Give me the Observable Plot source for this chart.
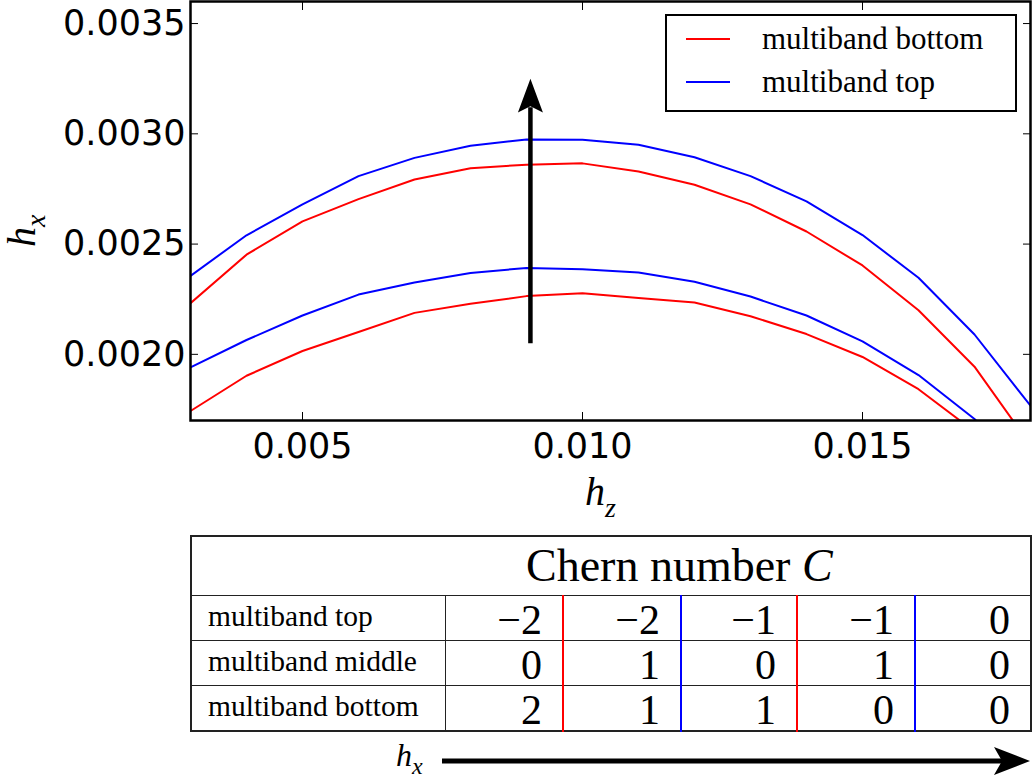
<!DOCTYPE html>
<html>
<head>
<meta charset="utf-8">
<script src="https://cdn.jsdelivr.net/npm/d3@7"></script>
<script src="https://cdn.jsdelivr.net/npm/@observablehq/plot@0.6"></script>
<style>
  body { margin: 0; background: #fff; width: 1032px; height: 779px; position: relative; overflow: hidden; }
  #chart { position: absolute; left: 0; top: 0; }
  #chern {
    position: absolute; left: 190px; top: 535px; width: 840px;
    border-collapse: collapse; table-layout: fixed;
    font-family: "Liberation Serif", "Times New Roman", serif; color: #000;
    border: 2px solid #222;
  }
  #chern td { padding: 0; border: 1.5px solid #222; border-left: none; border-right: none; white-space: nowrap; overflow: visible; }
  #chern tr.head td { height: 58px; font-size: 46px; padding-left: 334px; line-height: 58px; }
  #chern tr.band td { height: 44px; line-height: 44px; }
  #chern td.lab { font-size: 29.5px; padding-left: 16px; border-right: 1.5px solid #222; }
  #chern td.lab span { position: relative; top: -2px; }
  #chern td.num { font-size: 42px; text-align: right; padding-right: 20px; }
  #chern td.num span { position: relative; top: 2px; }
  #chern td.sep-red { border-right: 2px solid #ff0000; }
  #chern td.sep-blue { border-right: 2px solid #0000ff; }
  #hxarrow { position: absolute; left: 380px; top: 730px; }
</style>
</head>
<body>
<div id="chart"></div>
<table id="chern"></table>
<svg id="hxarrow" width="652" height="49"></svg>
<script>
// Field h_z sampled on a 0.001 grid
const hz = [0.003, 0.004, 0.005, 0.006, 0.007, 0.008, 0.009, 0.010,
            0.011, 0.012, 0.013, 0.014, 0.015, 0.016, 0.017, 0.018];

// Critical h_x for each transition (two branches per band)
const bottomUpper = [0.002232, 0.002452, 0.002603, 0.002704, 0.002793, 0.002844, 0.002860, 0.002866,
                     0.002829, 0.002769, 0.002680, 0.002557, 0.002403, 0.002200, 0.001944, 0.001588];
const topUpper    = [0.002356, 0.002540, 0.002680, 0.002808, 0.002891, 0.002946, 0.002974, 0.002973,
                     0.002950, 0.002894, 0.002808, 0.002694, 0.002541, 0.002347, 0.002090, 0.001767];
const bottomLower = [0.001743, 0.001903, 0.002015, 0.002101, 0.002188, 0.002229, 0.002264, 0.002277,
                     0.002255, 0.002235, 0.002173, 0.002092, 0.001988, 0.001842, 0.001650, 0.001400];
const topLower    = [0.001941, 0.002065, 0.002176, 0.002271, 0.002326, 0.002369, 0.002392, 0.002386,
                     0.002371, 0.002329, 0.002262, 0.002176, 0.002059, 0.001906, 0.001707, 0.001450];

const xTicks = [0.005, 0.010, 0.015];
const yTicks = [0.0020, 0.0025, 0.0030, 0.0035];

// Direction arrow: increasing h_x at fixed h_z
const arrowHz = [0.00907];
const arrowFrom = [0.00205];
const arrowTip = [0.00325];
const arrowBase = [0.00312];

const legendNames = ["multiband bottom", "multiband top"];
const legendColors = ["#ff0000", "#0000ff"];

// Chern numbers per band, in order of increasing h_x
const bandNames = ["multiband top", "multiband middle", "multiband bottom"];
const chernTop    = [-2, -2, -1, -1, 0];
const chernMiddle = [0, 1, 0, 1, 0];
const chernBottom = [2, 1, 1, 0, 0];
const phaseSeparators = ["sep-red", "sep-blue", "sep-red", "sep-blue", ""];

const toRows = (ys, series, branch) => hz.map((x, i) => ({hz: x, hx: ys[i], series, branch}));
const curves = [
  ...toRows(bottomUpper, legendNames[0], "bottom-upper"),
  ...toRows(bottomLower, legendNames[0], "bottom-lower"),
  ...toRows(topUpper, legendNames[1], "top-upper"),
  ...toRows(topLower, legendNames[1], "top-lower")
];

// Narrow filled arrowhead with its tip at the anchor point
const headSymbol = {
  draw(context, size) {
    const r = Math.sqrt(size / Math.PI);
    const w = r, h = r * 2.7;
    context.moveTo(0, 0);
    context.lineTo(-w, h);
    context.lineTo(0, h * 0.82);
    context.lineTo(w, h);
    context.closePath();
  }
};

const tickFont = "'DejaVu Sans', sans-serif";

const plot = Plot.plot({
  width: 1032,
  height: 530,
  marginLeft: 190,
  marginRight: 2,
  marginTop: 1,
  marginBottom: 110,
  style: {background: "#fff", color: "#000"},
  x: {domain: [0.003, 0.018]},
  y: {domain: [0.0017, 0.0036]},
  color: {domain: legendNames, range: legendColors},
  marks: [
    Plot.line(curves, {x: "hz", y: "hx", z: "branch", stroke: "series", strokeWidth: 2, clip: true}),
    Plot.link(arrowHz, {x1: d => d, x2: d => d, y1: () => arrowFrom[0], y2: () => arrowBase[0], stroke: "#000", strokeWidth: 4.5}),
    Plot.dot(arrowHz, {x: d => d, y: () => arrowTip[0], symbol: headSymbol, r: 12.5, fill: "#000", stroke: "none"}),
    // tick labels
    Plot.axisX(xTicks, {anchor: "bottom", tickSize: 0, tickPadding: 13, tickFormat: d3.format(".3f"), fontSize: 35, fontFamily: tickFont, label: null}),
    Plot.axisY(yTicks, {anchor: "left", tickSize: 0, tickPadding: 5, tickFormat: d3.format(".4f"), fontSize: 35, fontFamily: tickFont, label: null}),
    // inward ticks on all four sides
    Plot.axisX(xTicks, {anchor: "bottom", tickSize: 8, dy: -8, tickFormat: () => "", label: null}),
    Plot.axisX(xTicks, {anchor: "top", tickSize: 8, dy: 8, tickFormat: () => "", label: null}),
    Plot.axisY(yTicks, {anchor: "left", tickSize: 8, dx: 8, tickFormat: () => "", label: null}),
    Plot.axisY(yTicks, {anchor: "right", tickSize: 8, dx: -8, tickFormat: () => "", label: null}),
    Plot.frame({stroke: "#000", strokeWidth: 2.5})
  ]
});

document.getElementById("chart").appendChild(plot);

const svg = d3.select(plot);
const serif = "'Liberation Serif', 'Times New Roman', serif";

// axis titles with subscripts
const xt = svg.append("text").attr("x", 585).attr("y", 505).attr("text-anchor", "start")
  .attr("font-family", serif).attr("font-style", "italic").attr("font-size", 40);
xt.append("tspan").text("h");
xt.append("tspan").attr("font-size", 28).attr("dy", 12).text("z");

const yt = svg.append("text").attr("transform", "translate(35,247) rotate(-90)").attr("text-anchor", "start")
  .attr("font-family", serif).attr("font-style", "italic").attr("font-size", 40);
yt.append("tspan").text("h");
yt.append("tspan").attr("font-size", 28).attr("dy", 10).text("x");

// legend box
const lg = svg.append("g");
lg.append("rect").attr("x", 666).attr("y", 15).attr("width", 350).attr("height", 96)
  .attr("fill", "#fff").attr("stroke", "#000").attr("stroke-width", 2);
legendNames.forEach((name, i) => {
  const cy = 39 + i * 43;
  lg.append("line").attr("x1", 686).attr("x2", 730).attr("y1", cy).attr("y2", cy)
    .attr("stroke", legendColors[i]).attr("stroke-width", 2);
  lg.append("text").attr("x", 762).attr("y", cy + 10).attr("text-anchor", "start")
    .attr("font-family", serif).attr("font-size", 31).text(name);
});

// Chern number table
const table = d3.select("#chern");
const cg = table.append("colgroup");
[254, 118, 118, 116, 118, 116].forEach(w => cg.append("col").style("width", w + "px"));
const head = table.append("tr").attr("class", "head").append("td").attr("colspan", 6);
head.append("span").text("Chern number ");
head.append("i").text("C");

const fmt = v => (v < 0 ? "\u2212" : "") + Math.abs(v);
[chernTop, chernMiddle, chernBottom].forEach((vals, r) => {
  const tr = table.append("tr").attr("class", "band");
  tr.append("td").attr("class", "lab").append("span").text(bandNames[r]);
  vals.forEach((v, c) => {
    tr.append("td").attr("class", "num " + phaseSeparators[c]).append("span").text(fmt(v));
  });
});

// h_x direction arrow under the table
const ha = d3.select("#hxarrow");
const ht = ha.append("text").attr("x", 16).attr("y", 36)
  .attr("font-family", serif).attr("font-style", "italic").attr("font-size", 32);
ht.append("tspan").text("h");
ht.append("tspan").attr("font-size", 24).attr("dy", 8).text("x");
ha.append("line").attr("x1", 62).attr("x2", 622).attr("y1", 31).attr("y2", 31)
  .attr("stroke", "#000").attr("stroke-width", 5);
ha.append("path").attr("d", "M650,31 L614,17 L622,31 L614,45 Z").attr("fill", "#000");
</script>
</body>
</html>
